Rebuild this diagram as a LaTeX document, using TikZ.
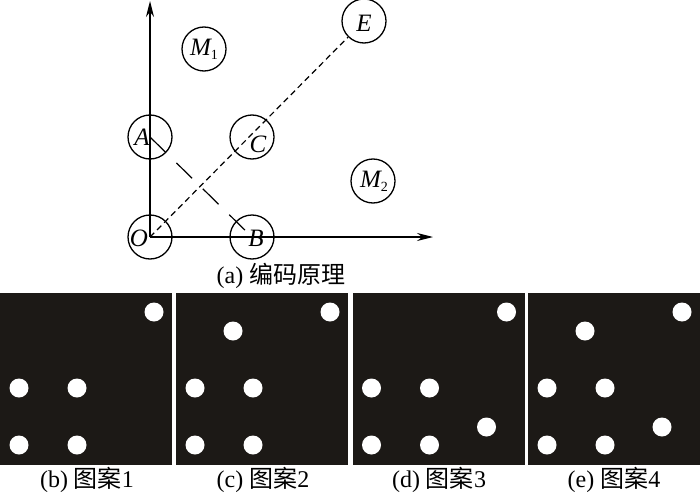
\documentclass[tikz,border=0pt]{standalone}
\usepackage{fontspec}
\setmainfont{Liberation Serif}
\newfontfamily\cjk{Noto Sans CJK SC}
\usetikzlibrary{arrows.meta}
\definecolor{panelc}{HTML}{1C1916}
\begin{document}
\begin{tikzpicture}[x=1pt,y=-1pt,
  ring/.style={circle,draw,line width=1.3pt,minimum size=44pt,inner sep=0pt},
  lbl/.style={font=\fontsize{25}{25}\selectfont\itshape,inner sep=0pt},
  axisline/.style={line width=1.3pt,-{Stealth[length=16pt,width=8pt]}},
  dot/.style={circle,fill=white,minimum size=19pt,inner sep=0pt},
  captext/.style={font=\fontsize{24}{24}\selectfont,inner sep=0pt}]
\useasboundingbox (0,0) rectangle (700,492);
% circles
\node[ring] (O) at (150,237) {};
\node[ring] (A) at (150,137) {};
\node[ring] (B) at (252,237) {};
\node[ring] (C) at (252,137) {};
\node[ring] (E) at (364,21) {};
\node[ring] (M1) at (204,49) {};
\node[ring] (M2) at (373,181) {};
% labels
\node[lbl] (lO) at (139,238) {O};
\node[lbl] (lA) at (142,137) {A};
\node[lbl] (lB) at (256,238) {B};
\node[lbl] (lC) at (258,144) {C};
\node[lbl] (lE) at (364,23) {E};
\node[lbl] (lM1) at (204,49) {M\raisebox{-0.35ex}{\upshape\fontsize{14}{14}\selectfont 1}};
\node[lbl] (lM2) at (374,181) {M\raisebox{-0.35ex}{\upshape\fontsize{14}{14}\selectfont 2}};
% axes
\coordinate (ytip) at (150,1);
\coordinate (xtip) at (433,237);
\draw[axisline] (O.center) -- (ytip);
\draw[axisline] (O.center) -- (xtip);
% dashed lines
\draw[line width=1.2pt,dash pattern=on 6pt off 4pt] (O.center) -- (E);
\draw[line width=1.2pt,dash pattern=on 22pt off 15pt] (A.center) -- (B.center);
\node[captext] (capa) at (281,276) {(a) {\cjk 编码原理}};
% panels
\foreach \px in {0,176,352.5,528}{
  \fill[panelc] (\px,293) rectangle ++(172,171.5);
}
\foreach \px in {0,176,352.5,528}{
  \node[dot] at (\px+19,388) {};
  \node[dot] at (\px+77,388) {};
  \node[dot] at (\px+19,445) {};
  \node[dot] at (\px+77,445) {};
  \node[dot] at (\px+154,312) {};
}
\node[dot] at (176+57,331) {};
\node[dot] at (528+57,331) {};
\node[dot] at (352.5+134,427) {};
\node[dot] at (528+134,427) {};
\node[captext] (capb) at (87,480) {(b) {\cjk 图案}1};
\node[captext] (capc) at (263,480) {(c) {\cjk 图案}2};
\node[captext] (capd) at (439,480) {(d) {\cjk 图案}3};
\node[captext] (cape) at (614,480) {(e) {\cjk 图案}4};
\end{tikzpicture}
\end{document}
